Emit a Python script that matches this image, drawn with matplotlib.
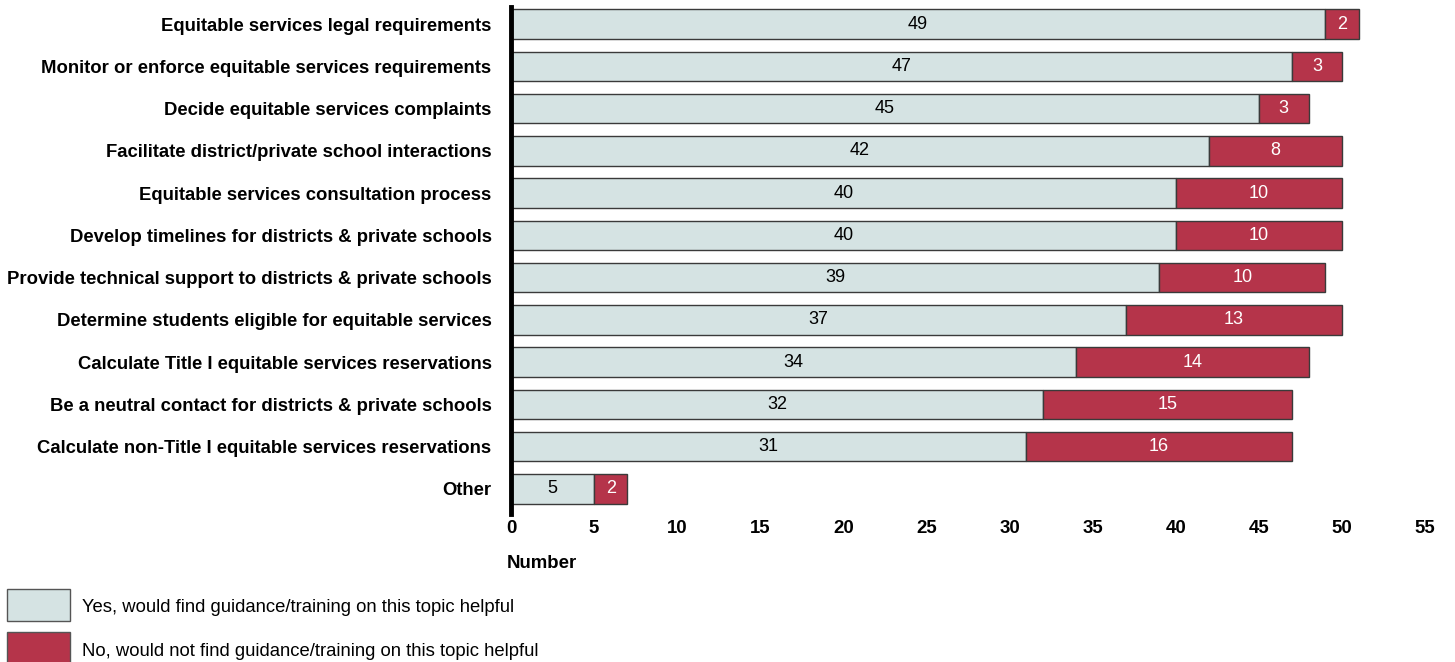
import numpy as np
import matplotlib.pyplot as plt
from matplotlib.patches import Rectangle

plt.rcParams['font.family'] = ['Liberation Sans', 'DejaVu Sans']

categories = [
    "Equitable services legal requirements",
    "Monitor or enforce equitable services requirements",
    "Decide equitable services complaints",
    "Facilitate district/private school interactions",
    "Equitable services consultation process",
    "Develop timelines for districts & private schools",
    "Provide technical support to districts & private schools",
    "Determine students eligible for equitable services",
    "Calculate Title I equitable services reservations",
    "Be a neutral contact for districts & private schools",
    "Calculate non-Title I equitable services reservations",
    "Other",
]
yes_vals = [49, 47, 45, 42, 40, 40, 39, 37, 34, 32, 31, 5]
no_vals = [2, 3, 3, 8, 10, 10, 10, 13, 14, 15, 16, 2]
legend_labels = [
    "Yes, would find guidance/training on this topic helpful",
    "No, would not find guidance/training on this topic helpful",
]

yes_color = "#D5E3E3"
no_color = "#B5344A"
edge = "#3a3a3a"

fig = plt.figure(figsize=(14.55, 6.62), dpi=100)
ax = fig.add_axes([511 / 1455, 1 - 510 / 662, (1425 - 511) / 1455, (510 - 3) / 662])

y = np.arange(len(categories))
ax.barh(y, yes_vals, height=0.7, color=yes_color, edgecolor=edge, linewidth=1)
ax.barh(y, no_vals, left=yes_vals, height=0.7, color=no_color, edgecolor=edge, linewidth=1)

for i, (a, b) in enumerate(zip(yes_vals, no_vals)):
    ax.text(a / 2, i, str(a), ha='center', va='center', fontsize=13, color='black')
    ax.text(a + b / 2, i, str(b), ha='center', va='center', fontsize=13, color='white')

ax.set_ylim(len(categories) - 0.5, -0.5)
ax.set_xlim(0, 55)
ax.set_xticks(np.arange(0, 56, 5))
ax.set_yticks(y)
ax.set_yticklabels(categories, fontsize=13.3, fontweight='bold')
ax.tick_params(axis='both', length=0)
ax.tick_params(axis='y', pad=14)
ax.tick_params(axis='x', pad=7, labelsize=13.4)
for lbl in ax.get_xticklabels():
    lbl.set_fontweight('bold')
for s in ['top', 'right', 'bottom']:
    ax.spines[s].set_visible(False)
ax.spines['left'].set_linewidth(3.5)
ax.spines['left'].set_color('black')
ax.spines['left'].set_bounds(-0.4, len(categories) - 0.4)

fig.text(507 / 1455, 1 - 563 / 662, "Number", fontsize=13.4, fontweight='bold', va='center', ha='left')

# legend drawn as figure patches
for k, (lab, col) in enumerate(zip(legend_labels, [yes_color, no_color])):
    yc = 605 + k * 43
    fig.patches.append(Rectangle((7 / 1455, 1 - (yc + 16) / 662), 63 / 1455, 32 / 662,
                                 transform=fig.transFigure, facecolor=col, edgecolor='#555555', linewidth=1))
    fig.text(82 / 1455, 1 - (yc + 3) / 662, lab, fontsize=13.3, va='center', ha='left')

fig.savefig("out.png", dpi=100)
